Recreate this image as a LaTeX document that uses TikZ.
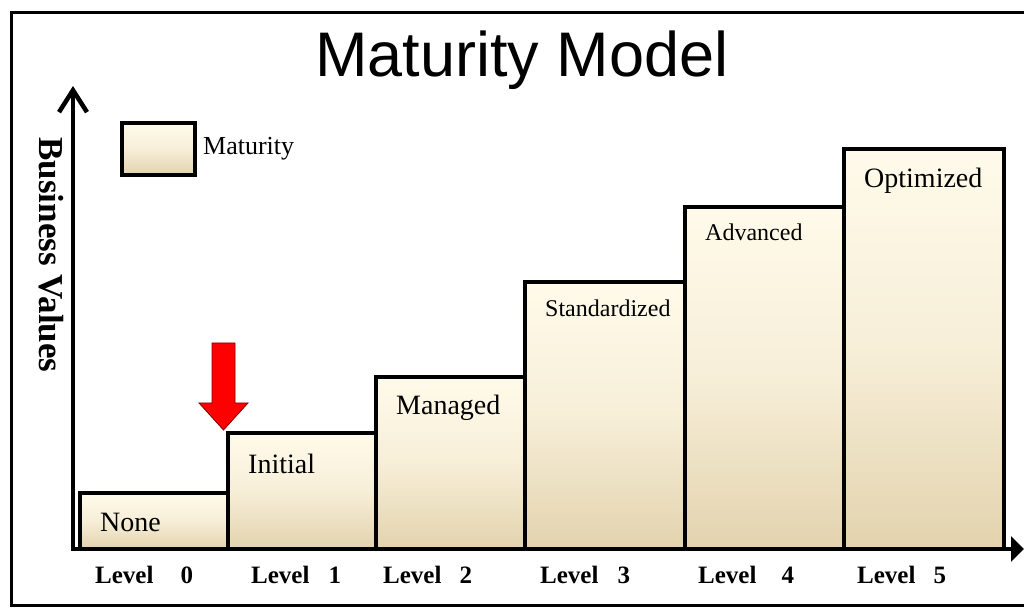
\documentclass[tikz,border=0pt]{standalone}
\usepackage{fontspec}
\setmainfont{Liberation Serif}
\newfontfamily\titlefont{Liberation Sans}
\usepackage{tikz}
\usetikzlibrary{positioning}
\usetikzlibrary{arrows.meta}
\usetikzlibrary{calc}

\definecolor{barTop}{HTML}{FFFAEA}
\definecolor{barBot}{HTML}{E3D3AE}

\tikzset{
  bar/.style={draw, line width=4pt, top color=barTop, bottom color=barBot,
    middle color=barTop!70!barBot, anchor=south west, inner sep=0pt, outer sep=0pt},
  bartext/.style={anchor=base west, inner sep=0pt},
  lvltext/.style={anchor=base west, inner sep=0pt,
    font=\fontsize{25}{28}\selectfont\bfseries},
}

\begin{document}
\begin{tikzpicture}[x=1pt,y=1pt]
\useasboundingbox (0,0) rectangle (1024,609);

% frame
\draw[line width=3pt] (1040,596) -- (11,596) -- (11,3) -- (1040,3);

\node[anchor=base, inner sep=0pt, font=\titlefont\fontsize{63}{70}\selectfont] (title) at (522,532) {Maturity Model};

% legend
\node[bar, minimum width=73, minimum height=52] (key) at (122,434) {};
\node[bartext, anchor=west, font=\fontsize{26}{28}\selectfont, right=8pt of key.east] (keytext) {Maturity};

% the steps
\foreach \name/\x/\w/\h/\d/\fs/\txt in {
    none/80/148/56/39/28/None,
    initial/228/148/116/41/28/Initial,
    managed/376/149/172/38/28/Managed,
    standard/525/160/267/35/24/Standardized,
    advanced/685/159/342/34/24/Advanced,
    optimized/844/160/400/39/28/Optimized}
{
  \node[bar, minimum width=\w, minimum height=\h] (\name) at (\x,60) {};
  \node[bartext, font=\fontsize{\fs}{\fs}\selectfont] (\name text) at ([xshift=20pt,yshift=-\d pt]\name.north west) {\txt};
}

% axes
\draw[line width=4.5pt, -{Straight Barb[length=22pt,width=28pt]}] (73,58) -- (73,523);
\draw[line width=4.5pt, -{Triangle[length=13pt,width=25pt]}] (71,60) -- (1024,60);

\node[rotate=-90, inner sep=0pt, font=\fontsize{35}{36}\selectfont\bfseries] (yname) at (51,354) {Business Values};

\foreach \x/\g/\d in {95/27/0, 251/19/1, 383/18/2, 540/19/3, 698/25/4, 857/18/5}
  \node[lvltext] (lvl\d) at (\x,25) {Level\hspace{\g pt}\d};

% red arrow
\draw[fill=red, draw=red!50!black, line width=0.8pt] (212,266) -- (235,266) -- (235,206) -- (248,206)
  -- (223.5,179) -- (199,206) -- (212,206) -- cycle;

\end{tikzpicture}
\end{document}
